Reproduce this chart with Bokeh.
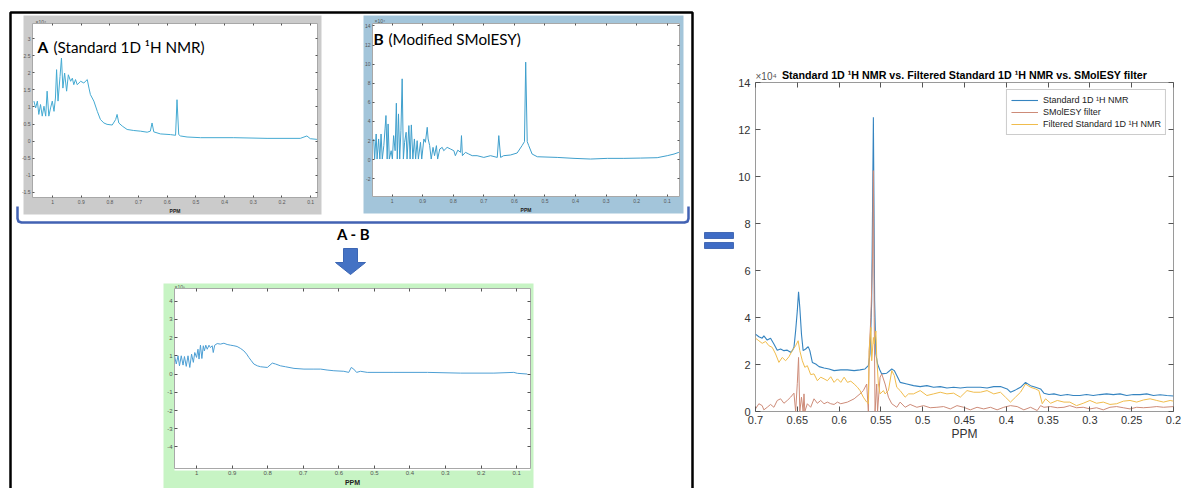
from bokeh.plotting import figure
from bokeh.layouts import column
from bokeh.models import Range1d, FixedTicker, CustomJSTickFormatter, LinearAxis
from bokeh.embed import file_html
from bokeh.resources import INLINE
from bokeh.core.properties import value

# ---------------- data (intensities in units of 10^4, panel C in 10^5) ----------------
a_ppm = [1.065, 1.059, 1.053, 1.048, 1.042, 1.036, 1.030, 1.024, 1.019, 1.013, 1.007, 1.001,
         0.995, 0.990, 0.986, 0.981, 0.974, 0.969, 0.964, 0.958, 0.951, 0.945, 0.937, 0.931,
         0.926, 0.920, 0.914, 0.902, 0.891, 0.879, 0.873, 0.868, 0.856, 0.844, 0.833, 0.821,
         0.810, 0.792, 0.780, 0.775, 0.769, 0.757, 0.740, 0.717, 0.693, 0.670, 0.659, 0.653,
         0.647, 0.624, 0.589, 0.571, 0.566, 0.560, 0.554, 0.531, 0.484, 0.368, 0.252, 0.136,
         0.113, 0.101, 0.078]
a_int = [1.17, 0.97, 1.17, 0.78, 1.07, 0.73, 1.02, 0.73, 1.46, 0.73, 0.97, 1.17,
         0.87, 1.26, 2.09, 1.17, 1.89, 2.43, 1.55, 1.99, 1.46, 1.94, 1.75, 1.84,
         1.65, 1.80, 1.65, 1.75, 1.70, 1.80, 1.55, 1.36, 1.17, 0.87, 0.63, 0.53,
         0.49, 0.47, 0.63, 0.78, 0.53, 0.44, 0.34, 0.31, 0.29, 0.26, 0.29, 0.53,
         0.27, 0.21, 0.19, 0.17, 1.21, 0.19, 0.15, 0.12, 0.10, 0.10, 0.08, 0.08,
         0.15, 0.07, 0.05]

b_ppm = [1.060, 1.057, 1.052, 1.049, 1.044, 1.040, 1.036, 1.032, 1.027, 1.023, 1.020, 1.016,
         1.013, 1.009, 1.003, 0.999, 0.995, 0.990, 0.986, 0.983, 0.979, 0.975, 0.971, 0.967,
         0.963, 0.959, 0.954, 0.951, 0.945, 0.941, 0.937, 0.932, 0.927, 0.923, 0.918, 0.914,
         0.907, 0.903, 0.896, 0.891, 0.885, 0.882, 0.877, 0.872, 0.866, 0.861, 0.855, 0.851,
         0.844, 0.836, 0.831, 0.820, 0.809, 0.798, 0.793, 0.785, 0.776, 0.773, 0.770, 0.760,
         0.749, 0.738, 0.722, 0.700, 0.678, 0.656, 0.651, 0.645, 0.635, 0.613, 0.591, 0.575,
         0.567, 0.563, 0.558, 0.553, 0.542, 0.525, 0.460, 0.405, 0.351, 0.296, 0.242, 0.187,
         0.133, 0.100, 0.078, 0.062]
b_int = [2.17, 0.07, 2.69, 0.07, 2.17, 0.07, 2.69, 0.07, 1.47, 3.22, 4.62, 0.07,
         3.74, 0.07, 0.94, 0.07, 2.52, 0.94, 5.91, 0.07, 4.79, 0.07, 3.04, 8.46,
         0.07, 1.82, 2.87, 0.07, 3.57, 0.07, 3.64, 0.07, 2.17, 0.07, 1.99, 0.07,
         1.82, 0.07, 2.17, 1.82, 3.39, 2.17, 1.47, 0.07, 1.29, 0.42, 1.47, 0.07,
         1.12, 1.29, 0.94, 1.29, 1.12, 0.94, 0.42, 1.00, 0.77, 2.52, 0.42, 0.77,
         0.59, 0.42, 0.42, 0.24, 0.42, 0.24, 2.52, 0.24, 0.42, 0.49, 0.70, 1.47,
         1.89, 10.21, 1.89, 1.47, 0.59, 0.31, 0.24, 0.14, 0.07, 0.14, 0.14, 0.17,
         0.21, 0.42, 0.59, 0.77]

c_ppm = [1.062, 1.057, 1.052, 1.048, 1.043, 1.038, 1.034, 1.029, 1.024, 1.019, 1.014, 1.009,
         1.005, 1.000, 0.996, 0.993, 0.989, 0.985, 0.981, 0.978, 0.974, 0.970, 0.965, 0.961,
         0.956, 0.953, 0.949, 0.942, 0.933, 0.923, 0.914, 0.904, 0.895, 0.886, 0.876, 0.867,
         0.859, 0.853, 0.846, 0.839, 0.829, 0.820, 0.801, 0.787, 0.778, 0.764, 0.750, 0.726,
         0.698, 0.670, 0.651, 0.633, 0.614, 0.586, 0.572, 0.565, 0.558, 0.550, 0.539, 0.520,
         0.445, 0.351, 0.258, 0.164, 0.108, 0.098, 0.070]
c_int = [1.00, 0.55, 1.00, 0.45, 1.00, 0.49, 0.96, 0.42, 1.00, 0.36, 1.09, 0.64,
         1.18, 0.91, 1.36, 0.82, 1.58, 0.85, 1.55, 1.27, 1.58, 1.36, 1.58, 1.45,
         1.55, 1.18, 1.58, 1.67, 1.64, 1.69, 1.62, 1.58, 1.55, 1.51, 1.40, 1.27,
         1.09, 0.91, 0.73, 0.55, 0.45, 0.40, 0.36, 0.60, 0.55, 0.45, 0.40, 0.31,
         0.27, 0.27, 0.27, 0.22, 0.18, 0.15, 0.09, 0.36, 0.27, 0.09, 0.15, 0.09,
         0.09, 0.09, 0.05, 0.05, 0.09, 0.04, 0.00]

std_ppm = [0.700, 0.696, 0.692, 0.690, 0.686, 0.682, 0.678, 0.674, 0.670, 0.666, 0.662, 0.658,
           0.656, 0.654, 0.652, 0.650, 0.6485, 0.647, 0.645, 0.643, 0.640, 0.637, 0.635, 0.632,
           0.628, 0.624, 0.618, 0.612, 0.606, 0.598, 0.590, 0.582, 0.575, 0.569, 0.565, 0.563,
           0.561, 0.559, 0.5575, 0.556, 0.554, 0.551, 0.549, 0.543, 0.537, 0.534, 0.531, 0.527,
           0.519, 0.511, 0.503, 0.495, 0.487, 0.479, 0.471, 0.463, 0.455, 0.447, 0.439, 0.431,
           0.423, 0.415, 0.407, 0.399, 0.395, 0.389, 0.383, 0.377, 0.371, 0.365, 0.359, 0.355,
           0.349, 0.343, 0.335, 0.327, 0.320, 0.312, 0.304, 0.296, 0.288, 0.280, 0.272, 0.264,
           0.256, 0.248, 0.240, 0.232, 0.224, 0.216, 0.208, 0.200]
std_int = [3.29, 3.18, 3.12, 3.22, 3.04, 3.12, 2.87, 2.61, 2.66, 2.59, 2.61, 2.52,
           2.59, 2.73, 3.43, 4.28, 5.09, 4.42, 3.29, 2.59, 2.66, 2.76, 2.59, 2.09,
           2.02, 1.91, 1.85, 1.81, 1.74, 1.77, 1.77, 1.74, 1.77, 1.81, 1.95, 2.45,
           4.71, 12.52, 4.71, 2.45, 2.02, 1.74, 1.60, 1.63, 1.81, 1.74, 1.53, 1.24,
           1.17, 1.10, 1.06, 1.10, 1.03, 1.06, 1.00, 1.03, 1.00, 1.03, 1.03, 1.03,
           1.00, 1.06, 1.06, 0.96, 0.82, 0.92, 1.03, 1.24, 1.10, 1.03, 0.96, 0.78,
           0.72, 0.75, 0.68, 0.72, 0.68, 0.68, 0.72, 0.68, 0.72, 0.75, 0.72, 0.75,
           0.68, 0.72, 0.72, 0.75, 0.68, 0.71, 0.68, 0.66]

flt_ppm = [0.700, 0.696, 0.692, 0.688, 0.684, 0.680, 0.676, 0.672, 0.668, 0.664, 0.660, 0.656,
           0.652, 0.649, 0.647, 0.644, 0.641, 0.638, 0.634, 0.630, 0.626, 0.622, 0.618, 0.614,
           0.610, 0.606, 0.602, 0.598, 0.594, 0.590, 0.586, 0.582, 0.578, 0.575, 0.571, 0.567,
           0.565, 0.564, 0.562, 0.561, 0.559, 0.558, 0.556, 0.555, 0.553, 0.551, 0.547, 0.545,
           0.541, 0.537, 0.534, 0.531, 0.527, 0.521, 0.517, 0.511, 0.503, 0.495, 0.487, 0.479,
           0.471, 0.463, 0.455, 0.447, 0.439, 0.431, 0.423, 0.415, 0.407, 0.401, 0.395, 0.389,
           0.383, 0.377, 0.371, 0.365, 0.361, 0.357, 0.353, 0.347, 0.339, 0.331, 0.324, 0.316,
           0.308, 0.300, 0.292, 0.284, 0.276, 0.268, 0.260, 0.252, 0.244, 0.236, 0.228, 0.220,
           0.212, 0.204, 0.200]
flt_int = [3.12, 3.01, 2.90, 2.98, 2.80, 2.73, 2.45, 2.09, 2.30, 2.16, 2.33, 2.59,
           2.80, 3.01, 2.59, 2.16, 1.88, 1.95, 1.57, 1.60, 1.31, 1.46, 1.39, 1.31,
           1.48, 1.24, 1.39, 1.24, 1.46, 1.24, 1.29, 1.17, 1.03, 0.89, 0.61, 0.40,
           0.33, 2.59, 3.58, 2.16, 3.15, 2.87, 3.43, 2.30, 1.17, 0.75, 0.89, 0.75,
           0.89, 1.74, 1.53, 1.03, 0.89, 0.61, 0.75, 0.75, 0.89, 0.68, 0.75, 0.82,
           0.75, 0.78, 0.61, 0.89, 0.82, 0.82, 0.89, 0.75, 0.82, 0.61, 0.40, 0.61,
           0.82, 1.17, 1.03, 0.96, 0.89, 0.33, 0.54, 0.35, 0.47, 0.40, 0.40, 0.25,
           0.35, 0.47, 0.35, 0.40, 0.30, 0.33, 0.44, 0.47, 0.40, 0.49, 0.54, 0.47,
           0.40, 0.47, 0.44]

sm_ppm = [0.700, 0.696, 0.692, 0.690, 0.686, 0.682, 0.678, 0.674, 0.670, 0.666, 0.662, 0.658,
          0.654, 0.652, 0.650, 0.6485, 0.647, 0.645, 0.643, 0.642, 0.641, 0.638, 0.634, 0.630,
          0.626, 0.622, 0.618, 0.614, 0.610, 0.606, 0.602, 0.598, 0.590, 0.582, 0.575, 0.571,
          0.567, 0.565, 0.564, 0.562, 0.560, 0.559, 0.558, 0.557, 0.555, 0.554, 0.551, 0.549,
          0.545, 0.541, 0.537, 0.531, 0.527, 0.521, 0.515, 0.507, 0.499, 0.491, 0.483, 0.475,
          0.467, 0.459, 0.451, 0.443, 0.435, 0.427, 0.419, 0.411, 0.403, 0.395, 0.387, 0.379,
          0.371, 0.363, 0.359, 0.355, 0.347, 0.339, 0.331, 0.324, 0.316, 0.308, 0.300, 0.292,
          0.284, 0.276, 0.268, 0.260, 0.252, 0.244, 0.236, 0.228, 0.220, 0.212, 0.200]
sm_int = [0.11, 0.33, 0.25, 0.07, 0.18, 0.30, 0.18, 0.47, 0.54, 0.35, 0.47, 0.61,
          0.78, 0.00, 1.20, 2.30, 0.00, 0.61, 0.00, 0.75, 0.00, 0.33, 0.18, 0.54,
          0.35, 0.47, 0.33, 0.40, 0.33, 0.30, 0.40, 0.33, 0.40, 0.54, 0.75, 0.89,
          1.17, 0.00, 2.59, 4.00, 6.50, 10.25, 4.00, 0.00, 1.17, 0.00, 1.46, 1.60,
          1.17, 0.61, 0.33, 0.18, 0.40, 0.18, 0.30, 0.18, 0.25, 0.16, 0.18, 0.21,
          0.11, 0.25, 0.18, 0.07, 0.18, 0.11, 0.18, 0.07, 0.18, 0.25, 0.21, 0.07,
          0.18, 0.04, 0.25, 0.18, 0.21, 0.16, 0.18, 0.25, 0.16, 0.18, 0.11, 0.16,
          0.07, 0.18, 0.21, 0.16, 0.11, 0.18, 0.16, 0.18, 0.21, 0.18, 0.21]

panel_xticks = [0.1, 0.2, 0.3, 0.4, 0.5, 0.6, 0.7, 0.8, 0.9, 1.0]
a_yticks = [-1.5, -1, -0.5, 0, 0.5, 1, 1.5, 2, 2.5, 3]
b_yticks = [-2, 0, 2, 4, 6, 8, 10, 12, 14]
c_yticks = [-4, -3, -2, -1, 0, 1, 2, 3, 4]
main_xticks = [0.2, 0.25, 0.3, 0.35, 0.4, 0.45, 0.5, 0.55, 0.6, 0.65, 0.7]
main_yticks = [0, 2, 4, 6, 8, 10, 12, 14]

legend_labels = ["Standard 1D \u00b9H NMR", "SMolESY filter", "Filtered Standard 1D \u00b9H NMR"]
series_colors = ["#3584c0", "#cd8b78", "#f0bc4c"]

W, H = 1181, 488
FMT = CustomJSTickFormatter(code="return Number(tick.toFixed(3)).toString();")


def place(left, top):
    return {"position": "absolute", "left": f"{left}px", "top": f"{top}px"}


# ---------------- background canvas with decorations ----------------
bg = figure(width=W, height=H, x_range=Range1d(0, W), y_range=Range1d(H, 0),
            x_axis_type=None, y_axis_type=None, toolbar_location=None,
            output_backend="svg", min_border=0, outline_line_color=None,
            background_fill_color="white", border_fill_color="white", frame_align=False)
# panel backgrounds
bg.quad(left=[23, 363, 163], right=[321, 683, 533], top=[15, 15, 283], bottom=[214, 213, 500],
        fill_color=["#cbcbcb", "#a3c5da", "#c7f4c4"], line_color=None)
# white plot frames
bg.quad(left=[32, 372, 174], right=[317, 679, 530], top=[23, 23, 288], bottom=[197, 196, 470],
        fill_color="white", line_color=None)
# black box
bg.line(x=[10, 10, 692, 692], y=[500, 12, 12, 500], line_width=2.5, line_color="black")
# blue bracket
bg.line(x=[17, 17, 18, 21, 684, 687, 688, 688], y=[206, 218, 221, 222, 222, 221, 218, 206],
        line_width=2.5, line_color="#4262b3", line_join="round")
# equals sign
bg.quad(left=[704, 704], right=[733, 733], top=[232, 242], bottom=[238, 248],
        fill_color="#3f6cc5", line_color="#2f57a8", line_width=0.8)
# arrow
bg.patch(x=[343, 357, 357, 365, 350, 335, 343], y=[248, 248, 262, 262, 274, 262, 262],
         fill_color="#4472c4", line_color="#3c66b4")
# texts
bg.text(x=[353], y=[233], text=["A - B"], text_font=value("Lato"), text_font_style="bold",
        text_font_size="15px", text_align="center", text_baseline="middle", text_color="black")
bg.text(x=[37, 373], y=[46.5, 38.5], text=["A", "B"], text_font=value("Lato"), text_font_style="bold",
        text_font_size="15.5px", text_align="left", text_baseline="middle", text_color="black")
bg.text(x=[53, 388], y=[46.5, 38.5], text=["(Standard 1D \u00b9H NMR)", "(Modified SMolESY)"],
        text_font=value("Lato"), text_font_size="15.2px", text_align="left",
        text_baseline="middle", text_color="black")
bg.text(x=[35, 374, 174], y=[21, 20, 286], text=["\u00d710\u2074", "\u00d710\u2074", "\u00d710\u2075"],
        text_font=value("Liberation Sans"), text_font_size="5px", text_align="left",
        text_baseline="middle", text_color="#555555")
bg.text(x=[964], y=[74], text=["Standard 1D \u00b9H NMR vs. Filtered Standard 1D \u00b9H NMR vs. SMolESY filter"],
        text_font=value("Liberation Sans"), text_font_style="bold", text_font_size="10.7px",
        text_align="center", text_baseline="middle", text_color="black")
bg.text(x=[755], y=[76], text=["\u00d710\u2074"], text_font=value("Liberation Sans"),
        text_font_size="10px", text_align="left", text_baseline="middle", text_color="#555555")


def style_axis(ax, ticks, fs, color, tick_len, standoff, labels=True):
    ax.ticker = FixedTicker(ticks=ticks)
    ax.formatter = FMT
    ax.axis_line_color = None
    ax.major_tick_in = tick_len
    ax.major_tick_out = 0
    ax.minor_tick_line_color = None
    ax.major_tick_line_color = color
    ax.major_label_text_font = "Liberation Sans"
    ax.major_label_text_font_size = fs
    ax.major_label_text_color = color if labels else None
    ax.major_label_standoff = standoff


def make_plot(left, top, fx0, fx1, fy0, fy1, xr, yr, xticks, yticks, fs, tick_len,
              standoff, rb, bb, outline):
    p = figure(width=(fx1 - left) + rb, height=(fy1 - top) + bb,
               x_range=Range1d(*xr), y_range=Range1d(*yr),
               toolbar_location=None, output_backend="svg",
               min_border_left=fx0 - left, min_border_top=fy0 - top,
               min_border_right=rb, min_border_bottom=bb,
               background_fill_color=None, border_fill_color=None,
               outline_line_color=outline, frame_align=False, styles=place(left, top))
    p.grid.visible = False
    bottom_ax = p.below[0]
    left_ax = p.left[0]
    style_axis(bottom_ax, xticks, fs, "#555555", tick_len, standoff)
    style_axis(left_ax, yticks, fs, "#555555", tick_len, standoff)
    top_ax = LinearAxis()
    right_ax = LinearAxis()
    style_axis(top_ax, xticks, "4px", "#555555", tick_len, 0, labels=False)
    style_axis(right_ax, yticks, "4px", "#555555", tick_len, 0, labels=False)
    p.add_layout(top_ax, "above")
    p.add_layout(right_ax, "right")
    return p, bottom_ax, left_ax


# ---------------- panel A ----------------
pa, pa_x, pa_y = make_plot(2, 0, 32, 317, 23, 197, (1.070, 0.076), (-1.65, 3.44), panel_xticks, a_yticks,
                           "5px", 2, 2, 15, 30, "#a8a8a8")
pa.line(a_ppm, a_int, line_color="#44aad2", line_width=1)

# ---------------- panel B ----------------
pb, pb_x, pb_y = make_plot(342, 0, 372, 679, 23, 196, (1.064, 0.060), (-3.85, 14.25), panel_xticks, b_yticks,
                           "5px", 2, 2, 10, 30, "#a8a8a8")
pb.line(b_ppm, b_int, line_color="#3f9fcc", line_width=1)

# ---------------- panel C (A - B) ----------------
pc, pc_x, pc_y = make_plot(144, 268, 174, 530, 288, 470, (1.062, 0.061), (-5.18, 4.69), panel_xticks, c_yticks,
                           "6px", 3, 2, 15, 18, "#a8a8a8")
pc.line(c_ppm, c_int, line_color="#4d9fd4", line_width=1)

for ax, fs in ((pa_x, "5px"), (pb_x, "5px"), (pc_x, "7px")):
    ax.axis_label = "PPM"
    ax.axis_label_text_font = "Liberation Sans"
    ax.axis_label_text_font_style = "bold"
    ax.axis_label_text_font_size = fs
    ax.axis_label_text_color = "#222222"
    ax.axis_label_standoff = 1

# ---------------- main comparison chart ----------------
pr, pr_x, pr_y = make_plot(700, 40, 755, 1173, 82, 411, (0.7, 0.2), (0, 14), main_xticks, main_yticks,
                           "11px", 5, 5, 8, 60, "#9a9a9a")
pr_x.axis_label = "PPM"
pr_x.axis_label_text_font = "Liberation Sans"
pr_x.axis_label_text_font_style = "normal"
pr_x.axis_label_text_font_size = "12px"
pr_x.axis_label_text_color = "#333333"
pr_x.axis_label_standoff = 0
pr_x.major_label_standoff = 4
for ax in (pr_x, pr_y):
    ax.major_label_text_color = "#333333"

pr.line(std_ppm, std_int, line_color=series_colors[0], line_width=1.1, legend_label=legend_labels[0])
pr.line(sm_ppm, sm_int, line_color=series_colors[1], line_width=1.0, legend_label=legend_labels[1])
pr.line(flt_ppm, flt_int, line_color=series_colors[2], line_width=1.0, legend_label=legend_labels[2])

lg = pr.legend[0]
lg.location = "top_right"
lg.margin = 7
lg.padding = 4
lg.spacing = 0
lg.glyph_width = 27
lg.glyph_height = 12
lg.label_height = 12
lg.label_standoff = 5
lg.label_text_font = "Liberation Sans"
lg.label_text_font_size = "9px"
lg.label_text_color = "#222222"
lg.border_line_color = "#9a9a9a"
lg.border_line_width = 1
lg.background_fill_color = "white"
lg.background_fill_alpha = 1.0

root = column(bg, pa, pb, pc, pr, styles={"position": "relative"})
open("out.html", "w").write(file_html(root, INLINE))
